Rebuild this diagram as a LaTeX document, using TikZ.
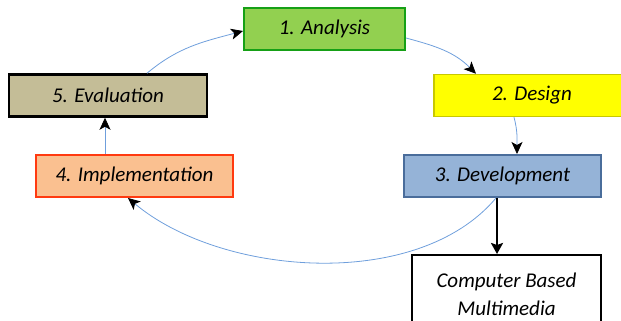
\documentclass[tikz,border=0pt]{standalone}
\usepackage{fontspec}
\setmainfont{Carlito}
\usetikzlibrary{arrows.meta}
\definecolor{angreen}{HTML}{92D050}
\definecolor{anborder}{HTML}{16A016}
\definecolor{deyellow}{HTML}{FFFF00}
\definecolor{deborder}{HTML}{C8C800}
\definecolor{dvblue}{HTML}{95B3D7}
\definecolor{dvborder}{HTML}{4A6D9B}
\definecolor{evtan}{HTML}{C4BD97}
\definecolor{imorange}{HTML}{FAC090}
\definecolor{imborder}{HTML}{FF3A10}
\definecolor{linkblue}{HTML}{6F9FDC}
\tikzset{
  phase/.style={rectangle, minimum height=42pt, inner sep=0pt, line width=2pt,
    font=\fontsize{21}{28}\selectfont\itshape, text=black},
  link/.style={draw=linkblue, line width=0.8pt, -{Stealth[black,length=12pt,width=11pt,inset=3pt]}},
  mainlink/.style={draw=black, line width=2.5pt, -{Stealth[black,length=11pt,width=12pt,inset=2pt]}}
}
\begin{document}
\begin{tikzpicture}[x=1pt,y=1pt]
\useasboundingbox (0,0) rectangle (621,321);
\clip (0,0) rectangle (621,321);
\node[phase, fill=angreen, draw=anborder, minimum width=161pt] (an) at (324.5,292) {1. Analysis};
\node[phase, fill=deyellow, draw=deborder, line width=1.5pt, minimum width=196pt] (de) at (532,225.5) {2. Design};
\node[phase, fill=dvblue, draw=dvborder, minimum width=197pt] (dv) at (502.5,145) {3. Development};
\node[phase, fill=evtan, draw=black, line width=2.5pt, minimum width=198pt] (ev) at (108,225.5) {5. Evaluation};
\node[phase, fill=imorange, draw=imborder, minimum width=197pt] (im) at (134.5,145) {4. Implementation};
\node[phase, fill=white, draw=black, minimum width=189pt, minimum height=78pt, align=center] (cb) at (506.5,27) {Computer Based\\Multimedia};
\draw[link] ([xshift=39pt]ev.north) to[out=40,in=195] ([yshift=-2pt]an.west);
\draw[link] ([yshift=-9pt]an.east) to[out=-15,in=135] ([xshift=-56pt]de.north);
\draw[link] ([xshift=-18pt]de.south) to[out=-75,in=90] ([xshift=14.5pt]dv.north);
\draw[link] ([xshift=-6.5pt]dv.south) to[out=-130,in=-40,looseness=0.85] ([xshift=-6.5pt]im.south);
\draw[link] ([xshift=-29.5pt]im.north) -- ([xshift=-3pt]ev.south);
\draw[mainlink] ([xshift=-5.5pt]dv.south) -- ([xshift=-9.5pt]cb.north);
\end{tikzpicture}
\end{document}
